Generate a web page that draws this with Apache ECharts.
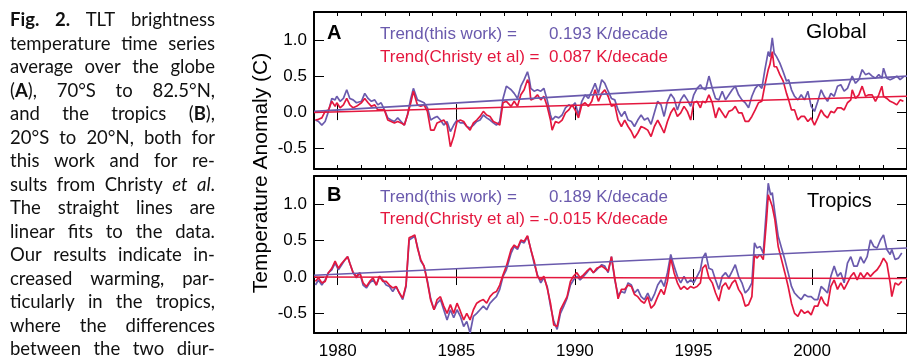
<!DOCTYPE html>
<html><head><meta charset="utf-8">
<script src="https://cdn.jsdelivr.net/npm/echarts@6/dist/echarts.min.js"></script>
<style>
html,body{margin:0;padding:0;background:#fff;}
#chart{position:absolute;left:0;top:0;width:907px;height:361px;}
#caption{position:absolute;left:10px;top:8px;width:205px;font-family:Lato,"Noto Sans",sans-serif;font-size:18.5px;line-height:23.5px;color:#111;}
#caption .ln{display:flex;justify-content:space-between;white-space:nowrap;height:23.5px;}
</style></head><body>
<div id="chart"></div><div id="caption"></div>
<script>
// ---------- data ----------
const yearsA = [1979.06,1979.19,1979.33,1979.47,1979.61,1979.75,1979.89,1979.96,1980.10,1980.24,1980.38,1980.51,1980.65,1980.79,1981.00,1981.14,1981.28,1981.42,1981.56,1981.69,1981.83,1981.97,1982.11,1982.25,1982.39,1982.53,1982.67,1982.81,1982.94,1983.08,1983.19,1983.36,1983.50,1983.64,1983.78,1983.92,1984.06,1984.19,1984.33,1984.47,1984.61,1984.75,1984.89,1985.03,1985.17,1985.31,1985.44,1985.58,1985.72,1985.86,1986.00,1986.14,1986.28,1986.42,1986.56,1986.69,1986.83,1986.97,1987.11,
 1987.31,1987.44,1987.58,1987.72,1987.86,1988.00,1988.07,1988.14,1988.28,1988.42,1988.56,1988.69,1988.83,1988.97,1989.04,1989.18,1989.32,1989.46,1989.60,1989.74,1989.88,1990.01,1990.15,1990.29,1990.43,1990.57,1990.71,1990.85,1990.99,1991.13,1991.26,1991.40,1991.54,1991.68,1991.82,1991.96,1992.10,1992.24,1992.38,1992.51,1992.65,1992.79,1992.93,1993.07,1993.21,1993.35,1993.49,1993.63,1993.76,1993.90,1994.04,1994.18,1994.32,1994.46,1994.60,1994.74,1994.88,1995.01,1995.15,1995.29,
 1995.38,1995.51,1995.65,1995.79,1995.93,1996.07,1996.21,1996.35,1996.49,1996.63,1996.76,1996.90,1997.04,1997.18,1997.32,1997.46,1997.60,1997.74,1997.88,1998.01,1998.15,1998.22,1998.32,1998.40,1998.50,1998.64,1998.78,1998.92,1999.01,1999.13,1999.26,1999.40,1999.54,1999.68,1999.82,1999.96,2000.10,2000.24,2000.38,2000.51,2000.65,2000.79,2000.93,2001.07,2001.21,2001.35,2001.49,2001.63,2001.69,2001.83,2001.97,2002.11,2002.25,2002.39,2002.53,2002.67,2002.81,2002.94,2003.01,2003.15,2003.29,2003.43,2003.57,2003.71,2003.85];
const thisWorkA = [-0.11,-0.13,-0.18,-0.13,0.01,0.19,0.17,0.22,0.15,0.19,0.31,0.19,0.17,0.13,0.15,0.26,0.19,0.15,0.17,0.10,0.13,0.03,-0.08,-0.11,-0.13,-0.08,-0.13,-0.18,-0.04,0.19,0.33,0.17,0.15,0.13,0.06,-0.11,-0.08,-0.06,-0.11,-0.18,-0.13,-0.27,-0.18,-0.11,-0.15,-0.15,-0.20,-0.22,-0.18,-0.13,-0.11,-0.04,-0.08,-0.11,-0.15,-0.18,-0.13,0.19,0.36,
 0.31,0.26,0.19,0.36,0.45,0.56,0.47,0.33,0.29,0.31,0.29,0.33,0.17,-0.04,-0.11,-0.06,-0.08,-0.04,0.06,0.10,0.08,0.13,-0.04,0.15,0.24,0.19,0.29,0.40,0.26,0.45,0.40,0.29,0.19,0.17,0.03,-0.06,0.01,-0.11,-0.13,-0.20,-0.11,-0.04,-0.11,-0.08,-0.17,-0.01,0.15,0.10,-0.06,0.15,0.25,0.19,0.03,0.17,0.24,0.17,0.08,0.24,0.33,0.38,
 0.33,0.31,0.50,0.33,0.19,0.17,0.29,0.17,0.24,0.31,0.36,0.24,0.17,0.13,0.06,0.22,0.33,0.38,0.33,0.59,0.84,0.77,1.03,0.82,0.77,0.68,0.56,0.43,0.45,0.31,0.22,0.17,0.24,0.17,0.29,0.08,0.01,0.15,0.31,0.22,0.15,0.26,0.22,0.36,0.38,0.29,0.33,0.45,0.50,0.40,0.45,0.59,0.52,0.54,0.50,0.47,0.52,0.47,0.61,0.47,0.45,0.47,0.50,0.45,0.49];
const christyA = [-0.11,-0.10,-0.08,0.01,0.03,0.15,0.08,0.13,0.06,0.10,0.19,0.10,0.06,0.08,0.13,0.19,0.13,0.08,0.10,0.03,0.03,0.03,-0.11,-0.13,-0.15,-0.13,-0.15,-0.18,-0.04,0.13,0.29,0.10,0.08,0.10,0.01,-0.25,-0.25,-0.15,-0.13,-0.11,-0.18,-0.48,-0.34,-0.13,-0.11,-0.13,-0.20,-0.25,-0.15,-0.11,-0.06,0.01,-0.04,-0.06,-0.13,-0.15,-0.18,0.13,0.15,
 0.08,0.15,0.08,0.24,0.31,0.45,0.40,0.17,0.19,0.24,0.17,0.22,0.08,-0.11,-0.25,-0.13,-0.15,-0.11,-0.01,0.03,0.10,0.03,-0.08,0.10,0.13,0.08,0.15,0.31,0.15,0.26,0.31,0.22,0.08,0.10,-0.11,-0.20,-0.11,-0.20,-0.27,-0.36,-0.29,-0.20,-0.22,-0.25,-0.34,-0.20,-0.11,-0.20,-0.29,-0.13,-0.01,0.06,-0.06,-0.01,0.08,0.01,-0.11,0.13,0.15,0.06,
 0.15,0.13,0.24,0.13,-0.08,0.06,-0.01,-0.08,0.01,0.03,0.08,-0.01,-0.01,-0.13,-0.13,-0.06,0.03,0.13,0.15,0.38,0.59,0.66,0.84,0.63,0.63,0.52,0.43,0.26,0.17,0.03,0.03,-0.11,-0.06,-0.06,-0.13,-0.08,-0.18,-0.08,0.03,-0.04,-0.08,0.01,-0.01,0.06,0.06,0.03,0.13,0.17,0.31,0.19,0.24,0.36,0.22,0.24,0.24,0.15,0.24,0.36,0.22,0.19,0.15,0.13,0.10,0.17,0.15];

const yearsB = [1979.06,1979.19,1979.33,1979.47,1979.61,1979.75,1979.89,1980.03,1980.17,1980.31,1980.42,1980.51,1980.65,1980.79,1980.93,1981.07,1981.21,1981.35,1981.49,1981.63,1981.76,1981.90,1982.04,1982.18,1982.32,1982.46,1982.60,1982.74,1982.88,1983.01,1983.15,1983.25,1983.36,1983.50,1983.64,1983.78,1983.92,1984.06,1984.19,1984.33,1984.47,1984.61,1984.75,1984.89,1985.03,1985.17,1985.31,1985.44,1985.58,1985.72,1985.86,1986.00,1986.14,1986.28,1986.42,1986.56,1986.69,1986.83,1986.97,1987.11,
 1987.31,1987.44,1987.58,1987.72,1987.86,1988.00,1988.14,1988.28,1988.42,1988.56,1988.69,1988.83,1988.97,1989.11,1989.25,1989.39,1989.53,1989.67,1989.81,1989.94,1990.08,1990.22,1990.36,1990.50,1990.64,1990.78,1990.92,1991.13,1991.26,1991.40,1991.54,1991.68,1991.82,1991.96,1992.10,1992.24,1992.38,1992.51,1992.65,1992.79,1992.93,1993.07,1993.21,1993.35,1993.49,1993.63,1993.76,1993.90,1994.04,1994.18,1994.32,1994.46,1994.60,1994.74,1994.88,1995.01,1995.15,1995.29,
 1995.38,1995.51,1995.65,1995.79,1995.93,1996.07,1996.21,1996.35,1996.49,1996.63,1996.76,1996.90,1997.04,1997.18,1997.32,1997.46,1997.57,1997.67,1997.81,1997.94,1998.08,1998.15,1998.25,1998.32,1998.43,1998.57,1998.71,1998.85,1998.99,1999.13,1999.26,1999.40,1999.54,1999.68,1999.82,1999.96,2000.10,2000.24,2000.38,2000.51,2000.65,2000.79,2000.93,2001.07,2001.21,2001.35,2001.49,2001.63,2001.76,2001.90,2002.04,2002.18,2002.32,2002.46,2002.60,2002.74,2002.88,2003.01,2003.15,2003.29,2003.36,2003.50,2003.64,2003.78];
const thisWorkB = [-0.11,-0.04,-0.11,-0.04,0.06,0.10,0.19,0.10,0.17,0.24,0.28,0.19,0.06,-0.01,0.06,-0.11,-0.15,-0.08,-0.04,-0.11,0.01,-0.04,-0.11,-0.13,-0.20,-0.13,-0.22,-0.31,-0.13,0.51,0.54,0.56,0.42,0.22,0.15,-0.05,-0.30,-0.45,-0.36,-0.31,-0.45,-0.59,-0.45,-0.56,-0.45,-0.54,-0.68,-0.61,-0.77,-0.54,-0.50,-0.45,-0.40,-0.45,-0.36,-0.31,-0.27,-0.17,0.01,0.10,
 0.33,0.42,0.38,0.49,0.47,0.56,0.38,0.19,0.03,-0.08,-0.01,-0.13,-0.40,-0.61,-0.72,-0.50,-0.40,-0.29,-0.11,-0.04,0.01,-0.04,0.01,0.06,0.12,0.06,0.10,0.17,0.15,0.06,0.28,-0.04,-0.25,-0.20,-0.22,-0.08,-0.11,-0.22,-0.17,-0.27,-0.31,-0.22,-0.33,-0.24,-0.11,-0.04,-0.13,0.06,0.31,0.15,0.01,-0.08,0.01,-0.08,-0.04,-0.08,0.01,0.10,
 0.26,0.33,0.12,0.10,-0.04,-0.17,0.01,0.06,-0.01,0.08,0.17,0.01,-0.08,-0.22,-0.17,-0.08,0.47,0.40,0.42,0.33,0.97,1.29,1.13,1.16,0.88,0.56,0.40,0.24,0.06,-0.13,-0.22,-0.27,-0.31,-0.24,-0.27,-0.27,-0.31,-0.31,-0.13,-0.17,-0.22,0.01,0.15,0.01,0.06,-0.08,0.19,0.28,0.15,0.15,0.28,0.19,0.28,0.51,0.42,0.40,0.51,0.58,0.38,0.31,0.38,0.24,0.26,0.33];
const christyB = [-0.06,-0.01,-0.08,-0.06,0.06,0.12,0.22,0.12,0.19,0.24,0.28,0.19,0.06,0.01,0.06,-0.08,-0.13,-0.06,-0.01,-0.11,0.01,-0.06,-0.06,-0.11,-0.15,-0.13,-0.22,-0.29,-0.11,0.54,0.56,0.58,0.40,0.24,0.15,-0.07,-0.32,-0.45,-0.31,-0.27,-0.40,-0.50,-0.38,-0.50,-0.36,-0.47,-0.59,-0.50,-0.59,-0.45,-0.36,-0.33,-0.31,-0.36,-0.27,-0.22,-0.20,-0.11,0.03,0.15,
 0.38,0.44,0.40,0.51,0.49,0.57,0.38,0.22,0.01,-0.04,0.01,-0.15,-0.36,-0.66,-0.68,-0.45,-0.36,-0.27,-0.06,0.01,0.06,-0.01,0.03,0.08,0.12,0.06,0.12,0.15,0.12,0.08,0.28,-0.01,-0.30,-0.17,-0.17,-0.11,-0.13,-0.24,-0.27,-0.33,-0.36,-0.27,-0.43,-0.38,-0.27,-0.17,-0.24,-0.06,0.26,0.06,-0.08,-0.17,-0.13,-0.17,-0.13,-0.15,-0.13,-0.08,
 0.12,0.17,-0.01,-0.08,-0.22,-0.33,-0.13,-0.08,-0.17,-0.08,-0.04,-0.17,-0.24,-0.40,-0.38,-0.27,0.31,0.26,0.31,0.24,0.79,1.13,1.04,0.97,0.79,0.42,0.24,0.06,-0.13,-0.36,-0.50,-0.54,-0.45,-0.50,-0.47,-0.52,-0.40,-0.40,-0.27,-0.36,-0.40,-0.13,-0.04,-0.17,-0.08,-0.17,-0.08,0.01,0.06,-0.04,0.06,-0.01,0.06,0.01,0.06,0.10,0.17,0.26,0.19,-0.08,-0.27,-0.08,-0.11,-0.06];

// linear-fit lines (end values)
const trendYears = [1979, 2004];
const trendThisA = [0.01, 0.50];
const trendChristyA = [-0.005, 0.22];
const trendThisB = [0.025, 0.40];
const trendChristyB = [0.0, -0.02];

// axis ticks / labels
const xMajorYears = [1980, 1985, 1990, 1995, 2000];
const yTickValues = [-0.5, 0, 0.5, 1.0];
const trendTexts = {
  A: ['Trend(this work) =', '0.193 K/decade', 'Trend(Christy et al) =', '0.087 K/decade', 'Global'],
  B: ['Trend(this work) =', '0.189 K/decade', 'Trend(Christy et al) =', '-0.015 K/decade', 'Tropics']
};
const captionLines = [
  ['<b>Fig.</b>','<b>2.</b>','TLT','brightness'],
  ['temperature','time','series'],
  ['average','over','the','globe'],
  ['(<b>A</b>),','70°S','to','82.5°N,'],
  ['and','the','tropics','(<b>B</b>),'],
  ['20°S','to','20°N,','both','for'],
  ['this','work','and','for','re-'],
  ['sults','from','Christy','<i>et</i>','<i>al</i>.'],
  ['The','straight','lines','are'],
  ['linear','fits','to','the','data.'],
  ['Our','results','indicate','in-'],
  ['creased','warming,','par-'],
  ['ticularly','in','the','tropics,'],
  ['where','the','differences'],
  ['between','the','two','diur-']
];

// ---------- caption ----------
const cap = document.getElementById('caption');
captionLines.forEach(words => {
  const d = document.createElement('div'); d.className = 'ln';
  d.innerHTML = words.map(w => '<span>' + w + '</span>').join('');
  cap.appendChild(d);
});

// ---------- chart ----------
const PURPLE = '#6a5aad', RED = '#e4173e', FONT = '"Liberation Sans", Arial, sans-serif';
const pairs = (xs, ys) => xs.map((x, i) => [x, ys[i]]);
const grids = [{left:314, top:12, width:600, height:157}, {left:314, top:176, width:600, height:157}];
const yRanges = [[-0.79, 1.39], [-0.77, 1.39]];
const black = {color:'#000', width:2};
const xAxes = [], yAxes = [];
[0,1].forEach(g => {
  ['bottom','top'].forEach(pos => {
    xAxes.push({gridIndex:g, type:'value', position:pos, min:1979, max:2004, interval:1,
      axisLine:{show:true, onZero:false, lineStyle:black},
      axisTick:{show:true, inside:true, length:4, lineStyle:{color:'#000', width:1}},
      axisLabel:{show:false}, splitLine:{show:false}});
    xAxes.push({gridIndex:g, type:'value', position:pos, min:1979, max:2004,
      axisLine:{show:false},
      axisTick:{show:true, inside:true, length:8, customValues:xMajorYears, lineStyle:{color:'#000', width:1}},
      axisLabel:{show:(g===1 && pos==='bottom'), customValues:xMajorYears, formatter:v => String(v),
        margin:10, fontSize:17, color:'#000', fontFamily:FONT},
      splitLine:{show:false}});
  });
  ['left','right'].forEach(pos => {
    yAxes.push({gridIndex:g, type:'value', position:pos, min:yRanges[g][0], max:yRanges[g][1],
      axisLine:{show:true, onZero:false, lineStyle:black},
      axisTick:{show:true, inside:true, length:10, customValues:yTickValues, lineStyle:{color:'#000', width:1}},
      axisLabel:{show:pos==='left', customValues:yTickValues, formatter:v => v.toFixed(1),
        margin:7, fontSize:17, color:'#000', fontFamily:FONT},
      splitLine:{show:false}});
  });
});
function line(xi, yi, data, color, w) {
  return {type:'line', xAxisIndex:xi, yAxisIndex:yi, data, symbol:'none', silent:true,
    lineStyle:{color, width:w}, animation:false};
}
const series = [
  line(0, 0, pairs(yearsA, thisWorkA), PURPLE, 1.7),
  line(0, 0, pairs(yearsA, christyA), RED, 1.7),
  line(0, 0, pairs(trendYears, trendThisA), PURPLE, 1.6),
  line(0, 0, pairs(trendYears, trendChristyA), RED, 1.6),
  line(4, 2, pairs(yearsB, thisWorkB), PURPLE, 1.7),
  line(4, 2, pairs(yearsB, christyB), RED, 1.7),
  line(4, 2, pairs(trendYears, trendThisB), PURPLE, 1.6),
  line(4, 2, pairs(trendYears, trendChristyB), RED, 1.6)
];
function txt(x, y, text, font, fill, align) {
  return {type:'text', x, y, silent:true,
    style:{text, font, fill, align:align||'left', verticalAlign:'middle', textAlign:align||'left', textVerticalAlign:'middle'}};
}
const graphics = [];
[['A', 33, 34.5, 57], ['B', 195, 197, 219.5]].forEach(([k, ly, y1, y2]) => {
  const t = trendTexts[k];
  graphics.push(txt(327, ly, k, 'bold 20px ' + FONT, '#000'));
  graphics.push(txt(380, y1, t[0], '17px ' + FONT, PURPLE));
  graphics.push(txt(668, y1, t[1], '17px ' + FONT, PURPLE, 'right'));
  graphics.push(txt(380, y2, t[2], '17px ' + FONT, RED));
  graphics.push(txt(668, y2, t[3], '17px ' + FONT, RED, 'right'));
});
graphics.push(txt(806, 32, trendTexts.A[4], '21px ' + FONT, '#000'));
graphics.push(txt(807, 201, trendTexts.B[4], '20px ' + FONT, '#000'));
graphics.push({type:'text', x:261, y:173, rotation:Math.PI/2, silent:true,
  style:{text:'Temperature Anomaly (C)', font:'21px ' + FONT, fill:'#000',
    align:'center', verticalAlign:'middle', textAlign:'center', textVerticalAlign:'middle'}});

const chart = echarts.init(document.getElementById('chart'), null, {renderer:'canvas'});
chart.setOption({
  animation:false, backgroundColor:'#fff',
  grid:grids, xAxis:xAxes, yAxis:yAxes, series, graphic:graphics
});
</script></body></html>
